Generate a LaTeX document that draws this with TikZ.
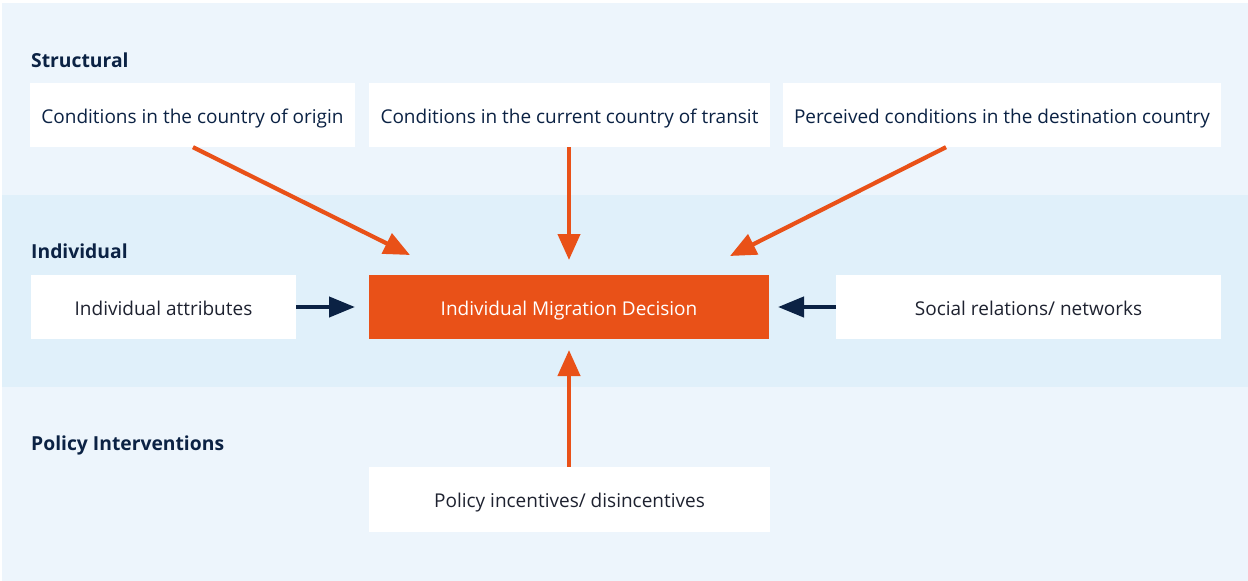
\documentclass[tikz,border=0pt]{standalone}
\usepackage{fontspec}
\setmainfont{Open Sans}
\usetikzlibrary{arrows.meta}
\definecolor{bandA}{HTML}{EDF5FC}
\definecolor{bandB}{HTML}{E0F0FA}
\definecolor{navy}{HTML}{0B2244}
\definecolor{ink}{HTML}{1E2230}
\definecolor{orng}{HTML}{E95118}
\begin{document}
\begin{tikzpicture}[x=1pt,y=-1pt,
  box/.style={fill=white,inner sep=0pt,text height=18pt,text depth=2pt,font=\fontsize{19}{21}\selectfont},
  head/.style={anchor=base west,inner sep=0pt,text=navy,font=\fontsize{19.3}{21}\selectfont\bfseries},
  oarrow/.style={draw=orng,line width=4.2pt,-{Triangle[length=26pt,width=22pt]}},
  narrow/.style={draw=navy,line width=4.2pt,-{Triangle[length=26pt,width=20pt]}}]
\useasboundingbox (0,0) rectangle (1248,581);
\fill[white] (0,0) rectangle (1248,581);
\fill[bandA] (2,3) rectangle (1248,195);
\fill[bandB] (2,195) rectangle (1248,387);
\fill[bandA] (2,387) rectangle (1248,581);
\node[head] (hs) at (31,67) {Structural};
\node[head] (hi) at (31,258) {Individual};
\node[head] (hp) at (31,450) {Policy Interventions};
\node[box,text=navy,minimum width=325pt,minimum height=64pt] (orig) at (192.5,115) {Conditions in the country of origin};
\node[box,text=navy,minimum width=401pt,minimum height=64pt] (trans) at (569.5,115) {Conditions in the current country of transit};
\node[box,text=navy,minimum width=438pt,minimum height=64pt] (dest) at (1002,115) {Perceived conditions in the destination country};
\node[box,text=ink,minimum width=265pt,minimum height=64pt] (attr) at (163.5,307) {Individual attributes};
\node[box,fill=orng,text=white,minimum width=400pt,minimum height=64pt] (dec) at (569,307) {Individual Migration Decision};
\node[box,text=ink,minimum width=385pt,minimum height=64pt] (soc) at (1028.5,307) {Social relations/ networks};
\node[box,text=ink,minimum width=401pt,minimum height=65pt] (pol) at (569.5,499.5) {Policy incentives/ disincentives};
\coordinate (t1) at (410,255);
\coordinate (t2) at (569,260);
\coordinate (t3) at (730,256);
\coordinate (t4) at (355,307);
\coordinate (t5) at (778,307);
\coordinate (t6) at (569,350);
\draw[oarrow] (orig.south -| 193,0) -- (t1);
\draw[oarrow] (trans.south -| 569,0) -- (t2);
\draw[oarrow] (dest.south -| 946,0) -- (t3);
\draw[narrow] (attr.east |- t4) -- (t4);
\draw[narrow] (soc.west |- t5) -- (t5);
\draw[oarrow] (pol.north -| 569,0) -- (t6);
\end{tikzpicture}
\end{document}
